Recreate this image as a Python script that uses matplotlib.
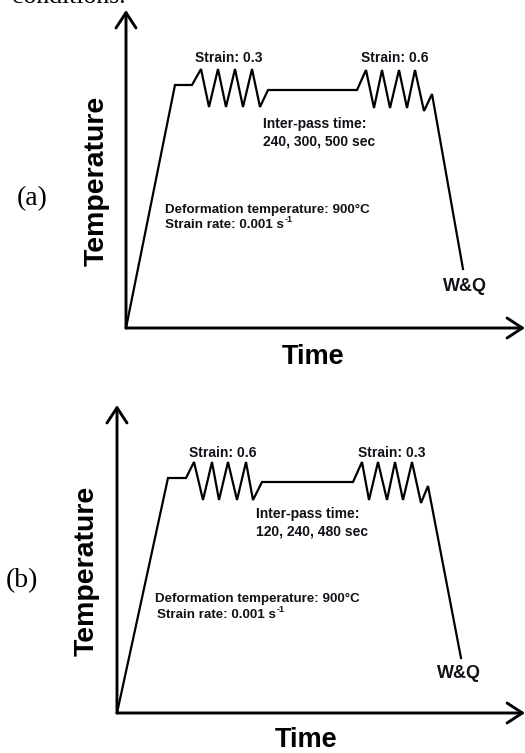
import matplotlib
matplotlib.use("Agg")
import matplotlib.pyplot as plt

plt.rcParams['font.family'] = ['Liberation Sans', 'DejaVu Sans']

# ---- schematic data (arbitrary time / temperature units) ----
time_a = [0, 49, 66, 75, 83, 92, 100, 109, 117, 126, 134, 142, 231, 240, 248, 256, 264, 273, 281, 289, 298, 306, 337]
temp_a = [0, 243, 243, 259, 221, 259, 221, 259, 221, 259, 221, 238, 238, 258, 220, 258, 220, 258, 220, 258, 217, 234, 59]

time_b = [0, 51, 69, 77, 86, 95, 102, 111, 120, 129, 136, 145, 236, 245, 252, 261, 270, 278, 286, 295, 304, 311, 344]
temp_b = [0, 235, 235, 251, 213, 251, 213, 251, 213, 251, 213, 231, 231, 251, 213, 251, 213, 251, 213, 251, 210, 227, 55]

strain_a = ["Strain: 0.3", "Strain: 0.6"]
strain_b = ["Strain: 0.6", "Strain: 0.3"]
interpass_a = "240, 300, 500 sec"
interpass_b = "120, 240, 480 sec"

W, H = 525, 753
fig = plt.figure(figsize=(W / 100, H / 100), dpi=100)
fig.patch.set_facecolor('white')

TXT = '#111118'


def panel(rect, xlim, ylim, t, T, strains, strain_pos, inter, inter_pos,
          deform_pos, rate_pos, wq_pos, ylab_pos, xlab_pos):
    ax = fig.add_axes(rect)
    ax.set_xlim(*xlim)
    ax.set_ylim(*ylim)
    ax.axis('off')
    # axes arrows
    arrow = dict(arrowstyle='->,head_length=0.55,head_width=0.36', lw=2.1,
                 color='black', shrinkA=0, shrinkB=0, mutation_scale=20)
    ax.annotate('', xy=(1, 0), xytext=(0, 0), xycoords='axes fraction',
                textcoords='axes fraction', arrowprops=arrow, annotation_clip=False)
    ax.annotate('', xy=(0, 1), xytext=(0, 0), xycoords='axes fraction',
                textcoords='axes fraction', arrowprops=arrow, annotation_clip=False)
    ax.plot(t, T, color='black', lw=1.6, solid_joinstyle='miter', clip_on=False)
    for s, (x, y) in zip(strains, strain_pos):
        ax.text(x, y, s, ha='center', va='center', fontsize=10,
                fontweight='bold', color=TXT)
    ax.text(inter_pos[0], inter_pos[1], "Inter-pass time:", ha='left',
            va='baseline', fontsize=10, fontweight='bold', color=TXT)
    ax.text(inter_pos[0], inter_pos[2], inter, ha='left',
            va='baseline', fontsize=10, fontweight='bold', color=TXT)
    ax.text(deform_pos[0], deform_pos[1], "Deformation temperature: 900°C",
            ha='left', va='baseline', fontsize=9.6, fontweight='bold', color=TXT)
    rate = ax.text(rate_pos[0], rate_pos[1], "Strain rate: 0.001 s",
                   ha='left', va='baseline', fontsize=9.6, fontweight='bold',
                   color=TXT)
    ax.annotate("-1", xy=(1, 0), xycoords=rate, xytext=(0.3, 6.2),
                textcoords='offset points', ha='left', va='baseline',
                fontsize=6.5, fontweight='bold', color=TXT)
    ax.text(wq_pos[0], wq_pos[1], "W&Q", ha='center', va='center',
            fontsize=13, fontweight='bold', color=TXT)
    ax.text(ylab_pos[0], ylab_pos[1], "Temperature", ha='center', va='center',
            rotation=90, fontsize=20.5, fontweight='bold', color='black',
            clip_on=False)
    ax.text(xlab_pos[0], xlab_pos[1], "Time", ha='center', va='center',
            fontsize=19.5, fontweight='bold', color='black', clip_on=False)
    return ax


# panel (a)
panel([126 / W, (H - 328) / H, 399 / W, 318 / H], (0, 399), (0, 318),
      time_a, temp_a, strain_a, [(103, 270), (269, 270)],
      interpass_a, (137, 200, 182), (39, 115), (39, 100), (339, 41),
      (-29, 147), (187, -29))

# panel (b)
panel([117 / W, 40 / H, 408 / W, 308 / H], (0, 408), (0, 308),
      time_b, temp_b, strain_b, [(106, 260), (275, 260)],
      interpass_b, (139, 195, 177), (38, 111), (40, 95), (342, 40),
      (-30, 142), (189, -27))

serif = ['Liberation Serif', 'DejaVu Serif']
fig.text(32 / W, 1 - 199 / H, "(a)", ha='center', va='center',
         fontsize=20, family=serif)
fig.text(22 / W, 1 - 581 / H, "(b)", ha='center', va='center',
         fontsize=20, family=serif)
fig.text(12 / W, 1 - 3 / H, "conditions.", ha='left', va='baseline',
         fontsize=18.5, family=serif)

fig.savefig('out.png', dpi=100, facecolor='white')
